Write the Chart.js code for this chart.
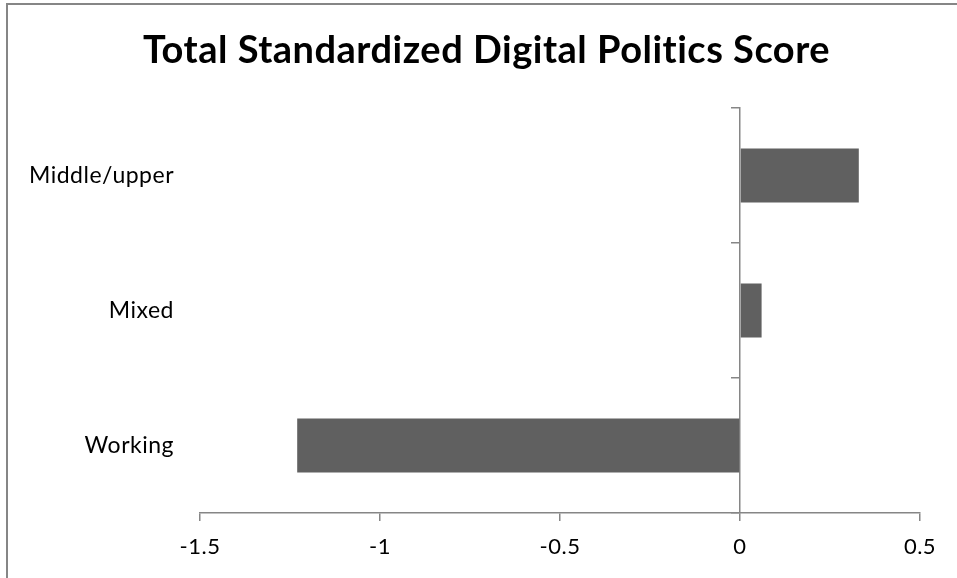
<!DOCTYPE html>
<html>
<head>
<meta charset="utf-8">
<title>Total Standardized Digital Politics Score</title>
<script src="https://cdn.jsdelivr.net/npm/chart.js@4.4.1/dist/chart.umd.min.js"></script>
<style>
  html, body { margin: 0; padding: 0; background: #ffffff; }
  canvas { display: block; }
</style>
</head>
<body>
<canvas id="chart" width="957" height="578"></canvas>
<script>
// Class groups, top to bottom
const categories = ['Middle/upper', 'Mixed', 'Working'];
// Total standardized digital politics score per group
const scores = [0.33, 0.06, -1.23];
// Value axis tick labels
const xTicks = [-1.5, -1, -0.5, 0, 0.5];

const AXIS_GREY = '#868686';
const BAR_GREY = '#606060';
const FONT = 'Lato, "Open Sans", sans-serif';

// White background, slightly open letter spacing, and the frame lines on the top and left edges
const framePlugin = {
  id: 'frame',
  beforeDraw(chart) {
    const ctx = chart.ctx;
    ctx.save();
    ctx.fillStyle = '#ffffff';
    ctx.fillRect(0, 0, chart.width, chart.height);
    ctx.restore();
    if ('letterSpacing' in ctx) ctx.letterSpacing = '0.5px';
  },
  afterDraw(chart) {
    const ctx = chart.ctx;
    ctx.save();
    ctx.strokeStyle = AXIS_GREY;
    ctx.lineWidth = 2;
    ctx.beginPath();
    ctx.moveTo(7, chart.height);
    ctx.lineTo(7, 4);
    ctx.lineTo(chart.width, 4);
    ctx.stroke();
    ctx.restore();
    if ('letterSpacing' in ctx) ctx.letterSpacing = '0px';
  }
};

new Chart(document.getElementById('chart'), {
  type: 'bar',
  data: {
    labels: categories,
    datasets: [{
      label: 'Score',
      data: scores,
      backgroundColor: BAR_GREY,
      borderWidth: 0,
      barPercentage: 0.4,
      categoryPercentage: 1.0,
      yAxisID: 'y'
    }]
  },
  options: {
    indexAxis: 'y',
    responsive: false,
    animation: false,
    layout: { padding: { left: 16, right: 0, top: 0, bottom: 0 } },
    plugins: {
      legend: { display: false },
      tooltip: { enabled: false },
      title: {
        display: true,
        text: 'Total Standardized Digital Politics Score',
        color: '#000000',
        font: { family: FONT, size: 38, weight: 'bold', lineHeight: 1.2 },
        padding: { top: 28, bottom: 34.4 }
      }
    },
    scales: {
      x: {
        type: 'linear',
        position: 'bottom',
        min: -1.5,
        max: 0.5,
        afterBuildTicks(scale) {
          scale.ticks = xTicks.map(v => ({ value: v }));
        },
        afterFit(scale) { scale.height = 65; },
        ticks: {
          color: '#000000',
          font: { family: FONT, size: 22 },
          padding: 13,
          callback: v => String(v)
        },
        grid: {
          display: true,
          drawOnChartArea: false,
          drawTicks: true,
          tickLength: 8,
          color: AXIS_GREY,
          lineWidth: 1.5
        },
        border: { display: true, color: AXIS_GREY, width: 1.5 }
      },
      // Category labels sit at the left edge of the plot
      y: {
        type: 'category',
        axis: 'y',
        position: 'left',
        offset: true,
        afterFit(scale) { scale.width = 184; },
        ticks: {
          color: '#000000',
          font: { family: FONT, size: 23 },
          padding: 26
        },
        grid: { display: false, drawTicks: false },
        border: { display: false }
      },
      // Category axis line crossing the value axis at zero
      yZero: {
        type: 'category',
        axis: 'y',
        position: { x: 0 },
        offset: true,
        ticks: { display: false },
        grid: {
          display: true,
          offset: true,
          drawOnChartArea: false,
          drawTicks: true,
          tickLength: 8,
          color: AXIS_GREY,
          lineWidth: 1.5
        },
        border: { display: true, color: AXIS_GREY, width: 1.5 }
      },
      // Empty right-hand gutter
      yRight: {
        type: 'category',
        axis: 'y',
        position: 'right',
        afterFit(scale) { scale.width = 37; },
        ticks: { display: false },
        grid: { display: false, drawTicks: false },
        border: { display: false }
      }
    }
  },
  plugins: [framePlugin]
});
</script>
</body>
</html>
